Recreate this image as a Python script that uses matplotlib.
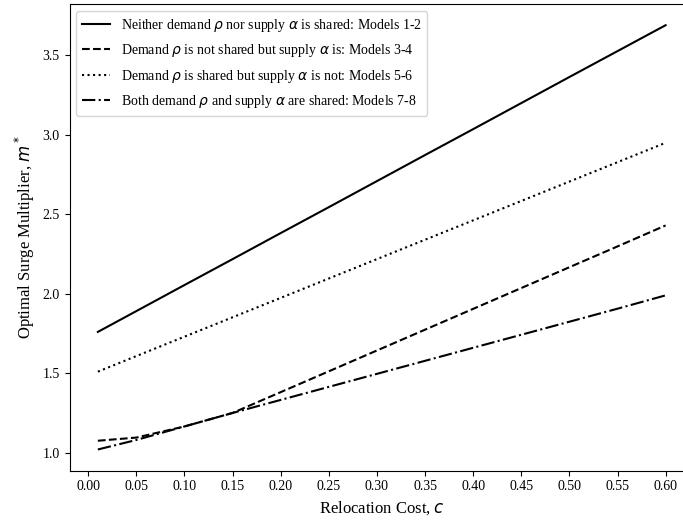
import matplotlib.pyplot as plt
import numpy as np

plt.rcParams['font.family'] = ['Liberation Serif', 'DejaVu Serif']
plt.rcParams['mathtext.fontset'] = 'dejavusans'

cost = [0.01, 0.05, 0.10, 0.15, 0.20, 0.25, 0.30, 0.35, 0.40, 0.45, 0.50, 0.55, 0.60]
m_models_12 = [1.76, 1.891, 2.055, 2.218, 2.382, 2.545, 2.709, 2.873, 3.036, 3.20, 3.364, 3.527, 3.69]
m_models_34 = [1.075, 1.095, 1.165, 1.25, 1.381, 1.512, 1.643, 1.774, 1.905, 2.036, 2.167, 2.298, 2.43]
m_models_56 = [1.51, 1.608, 1.730, 1.852, 1.974, 2.096, 2.218, 2.340, 2.462, 2.584, 2.706, 2.828, 2.95]
m_models_78 = [1.02, 1.08, 1.165, 1.25, 1.332, 1.414, 1.496, 1.578, 1.66, 1.742, 1.824, 1.906, 1.99]

labels = [r'Neither demand $\rho$ nor supply $\alpha$ is shared: Models 1-2',
          r'Demand $\rho$ is not shared but supply $\alpha$ is: Models 3-4',
          r'Demand $\rho$ is shared but supply $\alpha$ is not: Models 5-6',
          r'Both demand $\rho$ and supply $\alpha$ are shared: Models 7-8']
xticks = [0.00, 0.05, 0.10, 0.15, 0.20, 0.25, 0.30, 0.35, 0.40, 0.45, 0.50, 0.55, 0.60]

dpi = 100
fig = plt.figure(dpi=dpi, figsize=(683 / dpi, 521 / dpi))
# axes runs past the right edge, like the cropped original
ax = fig.add_axes([69.5 / 683, 50.3 / 521, 624.5 / 683, 466.7 / 521])

ax.plot(cost, m_models_12, 'k-', lw=1.5, label=labels[0])
ax.plot(cost, m_models_34, 'k--', lw=1.5, label=labels[1])
ax.plot(cost, m_models_56, 'k:', lw=1.5, label=labels[2])
ax.plot(cost, m_models_78, 'k-.', lw=1.5, label=labels[3])

ax.set_xticks(xticks)
ax.set_xticklabels(['%.2f' % t for t in xticks])
ax.tick_params(labelsize=10)
ax.set_xlabel(r'Relocation Cost, $c$', fontsize=12)
ax.set_ylabel(r'Optimal Surge Multiplier, $m^*$', fontsize=12)
ax.legend(loc='upper left', fontsize=10, labelspacing=0.62)

fig.savefig('out.png', dpi=dpi)
